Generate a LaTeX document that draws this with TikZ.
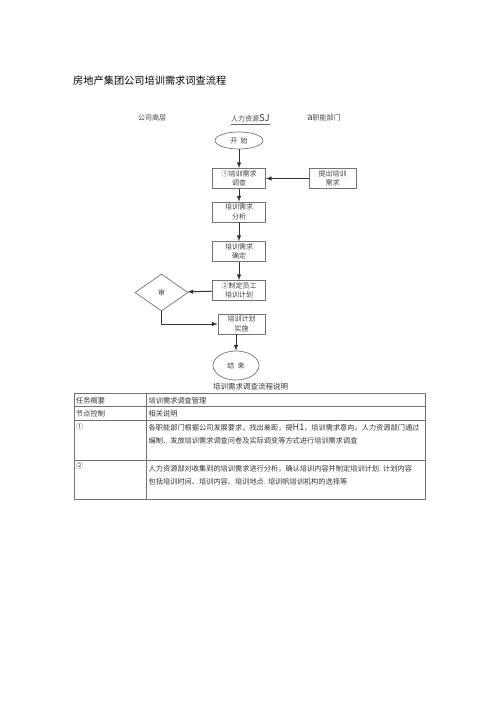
\documentclass[tikz,border=0pt]{standalone}
\usepackage{fontspec}
\setmainfont{Noto Sans CJK SC}
\usetikzlibrary{shapes.geometric}

\begin{document}
\begin{tikzpicture}[x=1pt,y=-1pt,>=latex,
	box/.style={draw=black!55,line width=0.7pt,minimum width=53pt,minimum height=20pt,
		inner sep=1pt,align=center,text=black!75,font=\fontsize{7}{9.5}\selectfont},
	oval/.style={ellipse,draw=black!55,line width=0.7pt,inner sep=0pt,text=black!75,
		font=\fontsize{7}{8}\selectfont},
	arr/.style={->,draw=black!80,line width=1pt},
	lane/.style={inner sep=0pt,text=black!75,font=\fontsize{7}{8}\selectfont},
	cell/.style={anchor=west,inner sep=0pt,text=black!80,font=\fontsize{7.2}{8}\selectfont},
	tbl/.style={draw=black!55,line width=0.8pt}]
	\useasboundingbox (0,0) rectangle (500,707);

	% title
	\node[anchor=west,inner sep=0pt,font=\fontsize{10.2}{12}\selectfont] (title) at (73,81) {房地产集团公司培训需求词查流程};

	% lanes
	\node[lane] (boss) at (152,117.5) {公司高层};
	\node[lane] (hr) at (250.5,118.5) {人力资源{\fontsize{9.5}{10}\selectfont SJ}};
	\draw[black!60,line width=0.6pt] ([yshift=-2pt]hr.south west) -- ([yshift=-2pt]hr.south east);
	\node[lane] (dept) at (324,118) {{\fontsize{9.5}{10}\selectfont a}职能部门};

	% flow
	\node[oval,minimum width=48pt,minimum height=17pt] (start) at (239,140.5) {开\ \ 始};
	\node[box] (ask1) at (239,178.5) {①培训需求\\调查};
	\node[box,minimum width=47pt] (need) at (332.5,178.5) {提出培训\\需求};
	\node[box] (ask2) at (239,212) {培训需求\\分析};
	\node[box] (ask3) at (239,251.5) {培训需求\\确定};
	\node[box] (plan) at (239,290.5) {②制定员工\\培训计划};
	\node[diamond,draw=black!55,line width=0.7pt,minimum width=53pt,minimum height=37pt,
		inner sep=0pt,text=black!75,font=\fontsize{7}{8}\selectfont] (audit) at (161.5,292.5) {审};
	\node[box,minimum width=47pt] (run) at (241.5,324) {培训计划\\实施};
	\node[oval,minimum width=46pt,minimum height=29pt] (end) at (236,365.5) {结\ \ 束};

	\draw[arr] (start) -- (ask1);
	\draw[arr] (need) -- (ask1);
	\draw[arr] (ask1) -- (ask2);
	\draw[arr] (ask2) -- (ask3);
	\draw[arr] (ask3) -- (plan);
	\draw[arr] (plan) -- (audit);
	\draw[arr] (audit.south) |- (run.west);
	\draw[arr] (run.south -| end.north) -- (end.north);

	% table
	\node[inner sep=0pt,text=black!80,font=\fontsize{7.5}{8}\selectfont] (cap) at (250.5,386.5) {培训需求调查流程说明};
	\draw[tbl] (74,393.5) rectangle (425,499);
	\foreach \y in {406.7,420,460}
		\draw[tbl] (74,\y) -- (425,\y);
	\draw[tbl] (146.5,393.5) -- (146.5,499);

	\node[cell] (c11) at (76,400.3) {任务概要};
	\node[cell] (c12) at (148.5,400.3) {培训需求调查管理};
	\node[cell] (c21) at (76,413.5) {节点控制};
	\node[cell] (c22) at (148.5,413.5) {相关说明};
	\node[cell] (c31) at (76,426.5) {①};
	\node[cell] (c32) at (148.5,428) {各职能部门根据公司发展要求，找出差距，提{\fontsize{9}{9}\selectfont H1}，培训需求意向。人力资源部门通过};
	\node[cell] (c33) at (148.5,441) {编制、发放培训需求调查问卷及实际调变等方式进行培训需求调查};
	\node[cell] (c41) at (76,466) {②};
	\node[cell] (c42) at (148.5,469) {人力资源部对收集到的培训需求进行分析，确认培训内容并制定培训计划. 计划内容};
	\node[cell] (c43) at (148.5,481.5) {包括培训时间、培训内容、培训地点. 培训帆培训机构的选择等};

\end{tikzpicture}
\end{document}
